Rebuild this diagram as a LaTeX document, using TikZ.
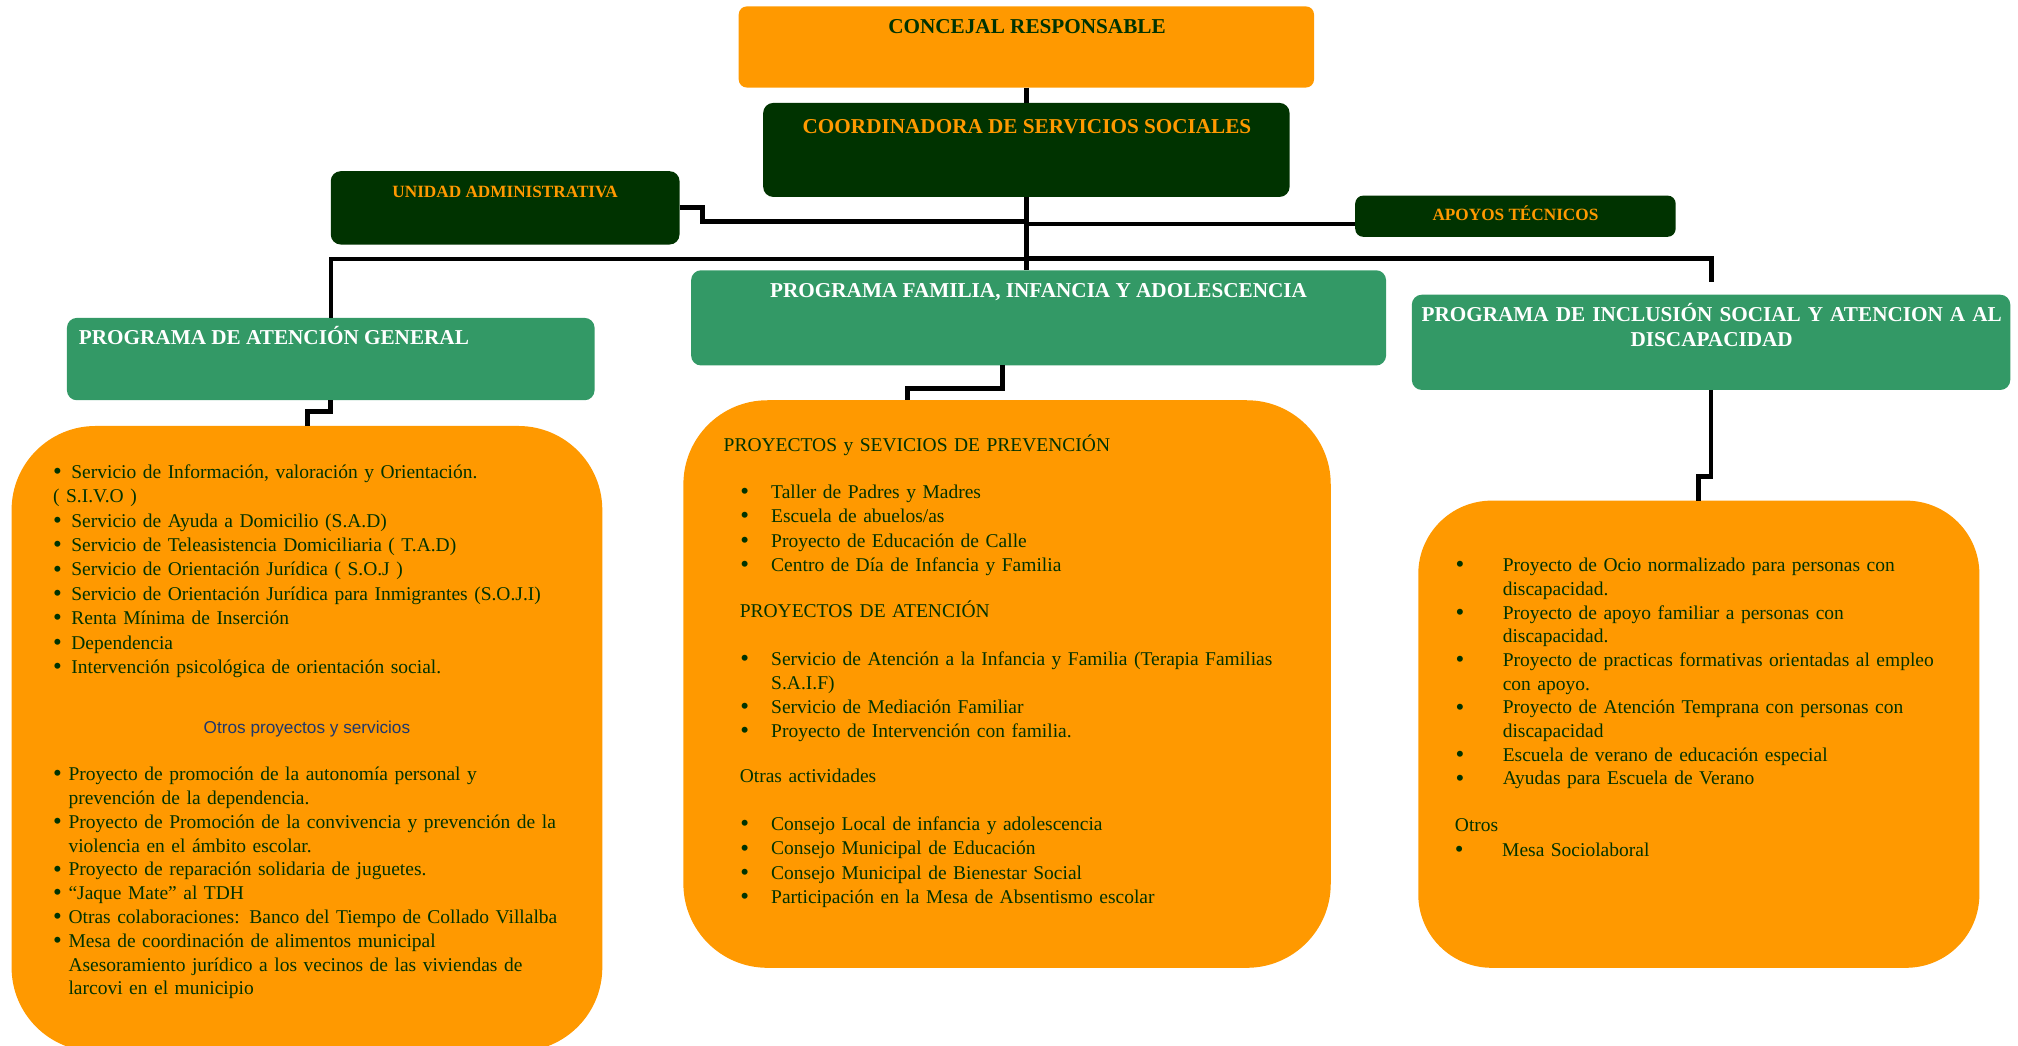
\documentclass[tikz,border=0pt]{standalone}
\usepackage{fontspec}
\setmainfont{Liberation Serif}
\newfontfamily\arialf{Liberation Sans}
\usetikzlibrary{fit,calc}
\definecolor{orng}{RGB}{255,153,0}
\definecolor{dkg}{RGB}{0,51,0}
\definecolor{mdg}{RGB}{51,153,102}
\definecolor{navyb}{RGB}{31,56,110}
\newcommand\bl[1]{\makebox[#1][l]{\raisebox{-0.6pt}{\fontsize{12.5}{12.5}\selectfont •}}}
\newcommand\ind[1]{\hspace*{#1}}
\begin{document}
\begin{tikzpicture}[x=0.64349pt,y=-0.64349pt,
  conn/.style={draw=black,line width=2.4pt},
  boxbase/.style={inner sep=0pt,outer sep=0pt},
  hd/.style={font=\bfseries\fontsize{10.6}{12.5}\selectfont,inner sep=0pt,anchor=base},
  sh/.style={font=\bfseries\fontsize{8.6}{10}\selectfont,inner sep=0pt,anchor=base,text=orng},
  body/.style={text=dkg,inner sep=0pt,anchor=base west,text width=420pt,align=left}]
\useasboundingbox (0,0) rectangle (1568,812);
% boxes
\node[boxbase,fill=orng,rounded corners=4pt,fit={(574,5)(1021,68)}] (conc) {};
\node[boxbase,fill=dkg,rounded corners=5pt,fit={(593,80)(1002,153)}] (coord) {};
\node[boxbase,fill=dkg,rounded corners=5pt,fit={(257,133)(528,190)}] (una) {};
\node[boxbase,fill=dkg,rounded corners=4pt,fit={(1053,152)(1302,184)}] (apo) {};
\node[boxbase,fill=mdg,rounded corners=5pt,fit={(537,210)(1077,284)}] (fam) {};
\node[boxbase,fill=mdg,rounded corners=5pt,fit={(52,247)(462,311)}] (atg) {};
\node[boxbase,fill=mdg,rounded corners=5pt,fit={(1097,229)(1562,303)}] (incl) {};
\node[boxbase,fill=orng,rounded corners=42pt,fit={(9,331)(468,817)}] (leftb) {};
\node[boxbase,fill=orng,rounded corners=42pt,fit={(531,311)(1034,752)}] (midb) {};
\node[boxbase,fill=orng,rounded corners=36.7pt,fit={(1102,389)(1538,752)}] (rightb) {};
% connectors
\coordinate (hub) at (798,201);
\coordinate (inclTop) at (1330,219);
\coordinate (ujoin) at (798,172);
\coordinate (ajoin) at (798,174);
\coordinate (fx) at (779,0);
\coordinate (mx) at (705,0);
\coordinate (lx) at (239,0);
\coordinate (rx) at (1320,0);
\draw[conn] (conc.south) -- (coord.north);
\draw[conn] (coord.south) -- (coord.south |- fam.north);
\draw[conn,line width=2pt] (hub) -| (atg.north);
\draw[conn] (hub) -| (inclTop);
\draw[conn] (una.east) -- ++(18,0) |- (ujoin);
\draw[conn] (ajoin) -- (ajoin -| apo.west);
\draw[conn] (fam.south -| fx) -- ++(0,18) -| (midb.north -| mx);
\draw[conn] (atg.south) -- ++(0,9) -| (leftb.north -| lx);
\draw[conn] (incl.south) -- ++(0,67) -| (rightb.north -| rx);
% titles
\node[hd,text=dkg] (conc-t) at (798,26.4) {CONCEJAL RESPONSABLE};
\node[hd,text=orng] (coord-t) at (798,103.6) {COORDINADORA DE SERVICIOS SOCIALES};
\node[sh] (una-t) at (392.5,153.3) {UNIDAD ADMINISTRATIVA};
\node[sh] (apo-t) at (1177.5,171.5) {APOYOS TÉCNICOS};
\node[hd,text=white] (fam-t) at (807,231) {PROGRAMA FAMILIA, INFANCIA Y ADOLESCENCIA};
\node[hd,text=white,anchor=base west] (atg-t) at (61,268) {PROGRAMA DE ATENCIÓN GENERAL};
\node[hd,text=white,text width=300pt,align=center] (incl-t) at (1330,250) {PROGRAMA DE INCLUSIÓN SOCIAL Y ATENCION A AL\\DISCAPACIDAD};
% left box
\node[body,font=\fontsize{9.75}{12.2}\selectfont] (l1) at (41,371.7) {\bl{9.1pt}Servicio de Información, valoración y Orientación.\\
( S.I.V.O )\\
\bl{9.1pt}Servicio de Ayuda a Domicilio (S.A.D)\\
\bl{9.1pt}Servicio de Teleasistencia Domiciliaria ( T.A.D)\\
\bl{9.1pt}Servicio de Orientación Jurídica ( S.O.J )\\
\bl{9.1pt}Servicio de Orientación Jurídica para Inmigrantes (S.O.J.I)\\
\bl{9.1pt}Renta Mínima de Inserción\\
\bl{9.1pt}Dependencia\\
\bl{9.1pt}Intervención psicológica de orientación social.};
\node[inner sep=0pt,anchor=base,text=navyb,font=\arialf\fontsize{8.6}{10}\selectfont] (otros-l) at (238.5,570) {Otros proyectos y servicios};
\node[body,font=\fontsize{9.75}{11.9}\selectfont] (l2) at (41,606.6) {\bl{7.7pt}Proyecto de promoción de la autonomía personal y\\
\ind{7.7pt}prevención de la dependencia.\\
\bl{7.7pt}Proyecto de Promoción de la convivencia y prevención de la\\
\ind{7.7pt}violencia en el ámbito escolar.\\
\bl{7.7pt}Proyecto de reparación solidaria de juguetes.\\
\bl{7.7pt}“Jaque Mate” al TDH\\
\bl{7.7pt}Otras colaboraciones: Banco del Tiempo de Collado Villalba\\
\bl{7.7pt}Mesa de coordinación de alimentos municipal\\
\ind{7.7pt}Asesoramiento jurídico a los vecinos de las viviendas de\\
\ind{7.7pt}larcovi en el municipio};
% middle box
\node[body,font=\fontsize{9.75}{12}\selectfont] (m0) at (562,351) {PROYECTOS y SEVICIOS DE PREVENCIÓN};
\node[body,font=\fontsize{9.75}{12.2}\selectfont] (m1) at (575,387.2) {\bl{15.4pt}Taller de Padres y Madres\\
\bl{15.4pt}Escuela de abuelos/as\\
\bl{15.4pt}Proyecto de Educación de Calle\\
\bl{15.4pt}Centro de Día de Infancia y Familia};
\node[body,font=\fontsize{9.75}{12}\selectfont] (m2) at (574.5,479.7) {PROYECTOS DE ATENCIÓN};
\node[body,font=\fontsize{9.75}{11.9}\selectfont] (m3) at (575,517.2) {\bl{15.4pt}Servicio de Atención a la Infancia y Familia (Terapia Familias\\
\ind{15.4pt}S.A.I.F)\\
\bl{15.4pt}Servicio de Mediación Familiar\\
\bl{15.4pt}Proyecto de Intervención con familia.};
\node[body,font=\fontsize{9.75}{12}\selectfont] (m4) at (574.5,608.2) {Otras actividades};
\node[body,font=\fontsize{9.75}{12.1}\selectfont] (m5) at (575,645.5) {\bl{15.4pt}Consejo Local de infancia y adolescencia\\
\bl{15.4pt}Consejo Municipal de Educación\\
\bl{15.4pt}Consejo Municipal de Bienestar Social\\
\bl{15.4pt}Participación en la Mesa de Absentismo escolar};
% right box
\node[body,font=\fontsize{9.75}{11.85}\selectfont] (r1) at (1130.7,444.2) {\bl{23.6pt}Proyecto de Ocio normalizado para personas con\\
\ind{23.6pt}discapacidad.\\
\bl{23.6pt}Proyecto de apoyo familiar a personas con\\
\ind{23.6pt}discapacidad.\\
\bl{23.6pt}Proyecto de practicas formativas orientadas al empleo\\
\ind{23.6pt}con apoyo.\\
\bl{23.6pt}Proyecto de Atención Temprana con personas con\\
\ind{23.6pt}discapacidad\\
\bl{23.6pt}Escuela de verano de educación especial\\
\bl{23.6pt}Ayudas para Escuela de Verano};
\node[body,font=\fontsize{9.75}{12.2}\selectfont] (r2) at (1130.2,646.2) {Otros\\
\bl{23.6pt}Mesa Sociolaboral};
\end{tikzpicture}
\end{document}
